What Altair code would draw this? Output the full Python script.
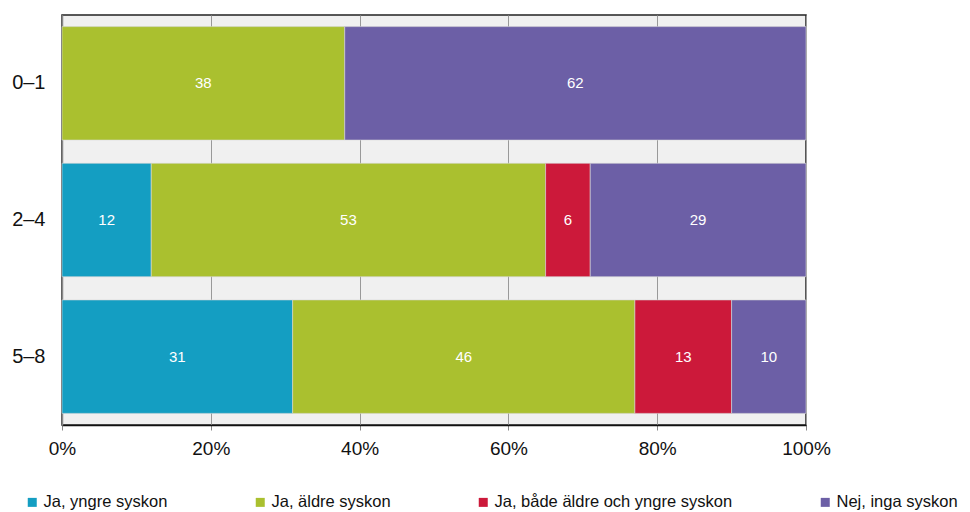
import altair as alt
import pandas as pd

ages = ["0–1", "2–4", "5–8"]
series = ["Ja, yngre syskon", "Ja, äldre syskon", "Ja, både äldre och yngre syskon", "Nej, inga syskon"]
colors = ["#149EC2", "#AAC02F", "#CC193A", "#6C5FA6"]
yngre = [0, 12, 31]
aldre = [38, 53, 46]
bada = [0, 6, 13]
nej = [62, 29, 10]

rows = []
for i, a in enumerate(ages):
    for j, (s, vals) in enumerate(zip(series, [yngre, aldre, bada, nej])):
        if vals[i] > 0:
            rows.append({"age": a, "series": s, "order": j, "value": vals[i]})
df = pd.DataFrame(rows)

FONT = "Liberation Sans"

base = alt.Chart(df).transform_stack(
    stack="value", groupby=["age"], sort=[alt.SortField("order")], as_=["x0", "x1"]
).transform_calculate(mid="(datum.x0 + datum.x1) / 2")

y_enc = alt.Y("age:N", sort=ages, title=None,
              scale=alt.Scale(paddingInner=0.17, paddingOuter=0.085),
              axis=alt.Axis(labelFontSize=20, labelFont=FONT, labelColor="#111",
                            ticks=False, labelPadding=17, domainColor="#888",
                            domainWidth=1.5, grid=False))

bars = base.mark_bar(stroke="#d8d8d8", strokeWidth=0.6).encode(
    x=alt.X("x0:Q", scale=alt.Scale(domain=[0, 100], nice=False), title=None,
            axis=alt.Axis(values=[0, 20, 40, 60, 80, 100], labelExpr="datum.value + '%'",
                          labelFontSize=19, labelFont=FONT, labelColor="#111",
                          labelFlush=False,
                          grid=True, gridColor="#999", gridWidth=1,
                          tickColor="#888", tickSize=5, labelPadding=9,
                          domainColor="#111", domainWidth=1.5)),
    x2="x1:Q",
    y=y_enc,
    color=alt.Color("series:N", scale=alt.Scale(domain=series, range=colors), title=None,
                    legend=alt.Legend(orient="none", legendX=-38, legendY=479,
                                      direction="horizontal", symbolType="square",
                                      symbolSize=81, symbolStrokeWidth=0,
                                      labelFontSize=16.5, labelFont=FONT, labelColor="#111",
                                      columnPadding=84, labelLimit=400, labelOffset=3)),
    order=alt.Order("order:Q"),
)

labels = base.mark_text(color="white", fontSize=15, font=FONT).encode(
    x=alt.X("mid:Q"),
    y=alt.Y("age:N", sort=ages),
    text=alt.Text("value:Q"),
)

chart = alt.layer(bars, labels).properties(
    width=744, height=410,
    autosize=alt.AutoSizeParams(type="none"),
    padding={"left": 54, "top": 7, "right": 154, "bottom": 100},
).configure_view(fill="#F0F0F0", stroke="#222", strokeWidth=1.5)

chart.save("out.html", embed_options={"renderer": "svg", "actions": False})
